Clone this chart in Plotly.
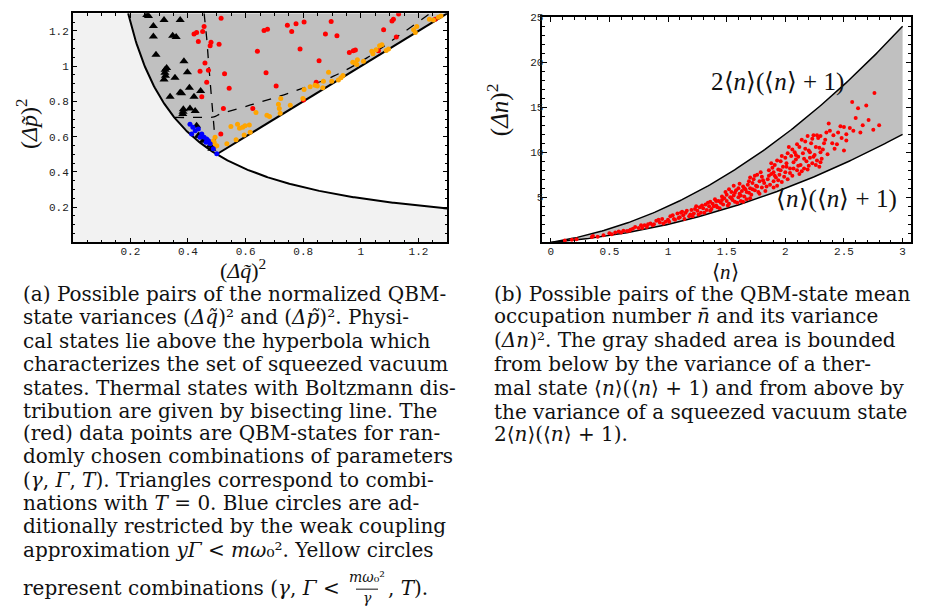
import numpy as np
import plotly.graph_objects as go

# The page body has an 8px margin, so the figure is drawn 8px in from the window edge.
OFF = 8
W, H = 929 - OFF, 608 - OFF

# ---------------- panel (a) data ----------------
tri_q = [0.257, 0.263, 0.280, 0.317, 0.373, 0.280, 0.347, 0.359, 0.289, 0.386, 0.326, 0.320, 0.317, 0.322, 0.321,
         0.398, 0.355, 0.405, 0.338, 0.373, 0.378, 0.421, 0.444, 0.384, 0.382, 0.383, 0.407, 0.425, 0.430, 0.442,
         0.453, 0.477, 0.483, 0.436]
tri_p = [1.290, 1.285, 1.228, 1.262, 1.262, 1.168, 1.172, 1.165, 1.065, 1.028, 0.990, 0.962, 0.925, 0.945, 0.980,
         0.966, 0.934, 0.878, 0.827, 0.850, 0.846, 0.827, 0.859, 0.756, 0.728, 0.742, 0.760, 0.746, 0.662, 0.605,
         0.577, 0.549, 0.531, 0.605]

red_q = [0.515, 0.456, 0.451, 0.480, 0.477, 0.508, 0.664, 0.676, 0.745, 0.775, 0.803, 0.760, 0.877, 0.641, 0.789,
         0.855, 0.459, 0.471, 0.442, 0.527, 0.671, 0.465, 0.543, 0.706, 0.845, 0.448, 0.523, 0.625, 0.801, 0.514,
         0.430, 0.421, 0.436, 0.897, 0.917, 1.131, 1.108, 1.113, 1.079, 1.123, 0.960, 0.974, 0.981, 1.061, 1.258]
red_p = [1.272, 1.225, 1.197, 1.135, 1.116, 1.125, 1.202, 1.210, 1.232, 1.240, 1.251, 1.197, 1.183, 1.084, 1.097,
         1.031, 1.018, 0.977, 0.971, 0.957, 0.962, 0.909, 0.874, 0.887, 0.909, 0.827, 0.760, 0.760, 0.808, 0.615,
         1.191, 1.183, 1.140, 1.253, 1.172, 1.296, 1.257, 1.266, 1.206, 1.165, 1.078, 1.088, 1.092, 1.088, 1.266]

blue_q = [0.407, 0.417, 0.425, 0.413, 0.436, 0.448, 0.456, 0.465, 0.442, 0.463, 0.477, 0.471, 0.488, 0.500]
blue_p = [0.671, 0.653, 0.634, 0.615, 0.643, 0.615, 0.597, 0.587, 0.597, 0.568, 0.559, 0.577, 0.531, 0.503]

orange_q = [0.494, 0.491, 0.500, 0.549, 0.572, 0.579, 0.590, 0.598, 0.613, 0.595, 0.616, 0.567, 0.535, 0.636,
            0.674, 0.683, 0.714, 0.717, 0.722, 0.720, 0.755, 0.799, 0.803, 0.824, 0.841, 0.849, 0.870, 0.888,
            0.899, 0.922, 0.931, 0.938, 0.868, 0.972, 0.980, 0.988, 0.986, 1.009, 1.038, 1.042, 1.053, 1.065,
            1.073, 1.088, 1.096, 1.183, 1.189, 1.194, 1.238, 1.252, 1.269, 1.278, 0.488, 0.495]
orange_p = [0.597, 0.568, 0.549, 0.658, 0.671, 0.647, 0.653, 0.662, 0.666, 0.609, 0.625, 0.583, 0.559, 0.737,
            0.722, 0.715, 0.784, 0.760, 0.816, 0.733, 0.778, 0.816, 0.868, 0.883, 0.891, 0.887, 0.915, 0.966,
            0.915, 0.921, 0.934, 0.947, 0.878, 1.022, 1.018, 1.037, 1.009, 1.028, 1.084, 1.071, 1.093, 1.116,
            1.121, 1.089, 1.097, 1.206, 1.191, 1.225, 1.266, 1.262, 1.277, 1.285, 0.575, 0.545]

dashA_q = [0.456, 0.465, 0.474, 0.482, 0.488, 0.493, 0.497]
dashA_p = [1.300, 1.160, 0.970, 0.800, 0.710, 0.620, 0.525]
dashB_q = [0.355, 0.430, 0.490, 0.511, 0.627, 0.755, 0.905, 1.021, 1.136, 1.241]
dashB_p = [0.709, 0.709, 0.712, 0.728, 0.784, 0.850, 0.943, 1.047, 1.178, 1.300]

a_ticks = [0.2, 0.4, 0.6, 0.8, 1.0, 1.2]
a_ticktext = ["0.2", "0.4", "0.6", "0.8", "1", "1.2"]

# ---------------- panel (b) data ----------------
n_pts = [0.12, 0.18, 0.22, 0.35, 0.36, 0.50, 0.52, 0.55, 0.58, 0.62, 0.67, 0.70, 0.72, 0.75, 0.77, 0.80, 0.82,
         0.85, 0.88, 0.90, 0.93, 0.95, 0.98, 1.00, 1.02, 1.05, 1.08, 1.10, 1.12, 1.13, 1.15, 1.18, 1.20, 1.22,
         1.24, 1.25, 1.27, 1.28, 1.30, 1.32, 1.33, 1.35, 1.36, 1.37, 1.38, 1.40, 1.41, 1.42, 1.43, 1.45, 1.46,
         1.47, 1.48, 1.50, 1.50, 1.52, 1.53, 1.54, 1.55, 1.56, 1.57, 1.58, 1.60, 1.60, 1.61, 1.62, 1.63, 1.64,
         1.65, 1.66, 1.67, 1.68, 1.69, 1.70, 1.70, 1.71, 1.72, 1.73, 1.74, 1.75, 1.76, 1.77, 1.78, 1.80, 1.80,
         1.82, 1.83, 1.85, 1.86, 1.87, 1.88, 1.89, 1.90, 1.90, 1.91, 1.92, 1.93, 1.94, 1.95, 1.96, 1.97, 1.98,
         2.00, 2.00, 2.01, 2.02, 2.03, 2.04, 2.05, 2.06, 2.07, 2.08, 2.09, 2.10, 2.10, 2.11, 2.12, 2.13, 2.14,
         2.15, 2.16, 2.17, 2.18, 2.19, 2.20, 2.20, 2.21, 2.22, 2.23, 2.24, 2.25, 2.26, 2.27, 2.28, 2.29, 2.30,
         2.30, 2.31, 2.33, 2.35, 2.37, 2.40, 2.42, 2.45, 2.48, 2.50, 2.50, 2.52, 2.55, 2.57, 2.60, 2.62, 2.66,
         2.69, 2.75, 2.76, 2.80,
         0.40, 0.45, 0.60, 0.65, 0.68, 0.78, 0.83, 0.87, 0.92, 0.96, 1.01, 1.04, 1.06, 1.09, 1.11, 1.14, 1.16,
         1.19, 1.21, 1.23, 1.26, 1.29, 1.31, 1.34, 1.36, 1.39, 1.41, 1.44, 1.46, 1.49, 1.51, 1.52, 1.54, 1.56,
         1.57, 1.59, 1.61, 1.62, 1.64, 1.65, 1.67, 1.69, 1.70, 1.72, 1.74, 1.76, 1.78, 1.79, 1.81, 1.84, 1.86,
         1.88, 1.90, 1.91, 1.93, 1.94, 1.96, 1.97, 1.99, 2.01, 2.02, 2.04, 2.06, 2.07, 2.09, 2.11, 2.12, 2.14,
         2.16, 2.17, 2.19, 2.21, 2.23, 2.24, 2.26, 2.27, 2.29, 2.30, 2.32, 2.34, 2.36, 2.38, 2.41, 2.44, 2.47,
         2.52, 2.58, 2.64, 2.71]
var_pts = [0.20, 0.30, 0.35, 0.60, 0.70, 1.00, 0.90, 1.10, 1.20, 1.30, 1.30, 1.50, 1.70, 1.60, 1.90, 1.90, 1.70,
           2.10, 2.00, 2.40, 2.20, 2.60, 2.30, 2.50, 2.90, 2.60, 3.20, 2.80, 3.40, 3.00, 3.30, 2.90, 3.60, 3.20,
           4.00, 3.50, 3.90, 3.30, 3.80, 4.20, 3.60, 4.00, 4.50, 3.70, 4.30, 4.80, 4.10, 3.90, 4.60, 4.40, 5.10,
           4.20, 4.90, 4.60, 5.30, 4.30, 5.00, 5.60, 4.70, 5.20, 4.50, 5.80, 5.00, 6.00, 5.40, 4.60, 5.70, 6.20,
           5.10, 5.90, 4.80, 6.40, 5.50, 6.00, 7.20, 5.30, 6.60, 7.00, 5.80, 6.30, 7.50, 5.60, 6.80, 6.10, 7.30,
           6.60, 5.70, 7.00, 8.00, 6.40, 7.60, 8.30, 6.80, 7.80, 8.60, 7.20, 6.30, 8.10, 7.50, 9.00, 6.70, 8.40,
           7.80, 9.40, 8.80, 7.00, 10.6, 8.20, 9.60, 7.40, 8.90, 10.0, 9.20, 8.00, 10.9, 9.50, 7.60, 8.60, 11.4,
           9.90, 8.20, 10.4, 9.00, 11.8, 8.50, 10.2, 9.40, 11.0, 8.80, 11.9, 9.70, 10.6, 9.10, 11.6, 8.40, 10.0,
           11.8, 9.30, 11.0, 12.2, 13.2, 11.0, 10.4, 12.2, 11.6, 10.2, 12.8, 12.0, 12.7, 15.6, 13.8, 14.9, 13.0,
           15.2, 12.5, 16.6, 13.0,
           0.62, 0.80, 1.10, 1.25, 1.40, 1.60, 2.00, 1.90, 2.50, 2.10, 2.30, 3.00, 2.50, 2.70, 3.30, 2.60, 3.50,
           3.10, 2.90, 3.70, 3.10, 4.10, 3.30, 4.40, 3.50, 4.00, 4.60, 3.80, 4.70, 5.60, 4.10, 5.90, 4.90, 6.30,
           5.50, 4.40, 6.50, 5.20, 4.50, 6.00, 5.60, 6.80, 4.90, 5.90, 7.40, 6.20, 5.40, 7.80, 6.90, 6.20, 7.40,
           8.80, 6.10, 7.40, 9.10, 6.90, 8.00, 9.60, 7.30, 8.40, 9.90, 7.70, 10.3, 8.20, 9.70, 8.50, 10.6, 7.90,
           9.30, 11.2, 8.10, 10.0, 11.5, 9.50, 8.60, 11.9, 10.5, 8.90, 10.3, 11.4, 9.80, 12.4, 11.9, 10.9, 12.9,
           11.3, 12.4, 12.2, 13.6]

b_xticks = [0, 0.5, 1, 1.5, 2, 2.5, 3]
b_xticktext = ["0", "0.5", "1", "1.5", "2", "2.5", "3"]
b_yticks = [5, 10, 15, 20, 25]

# ---------------- analytic boundaries ----------------
q_line = np.linspace(0.25 / 1.3, 1.3, 300)
p_hyp = 0.25 / q_line
q_up = np.linspace(0.25 / 1.3, 0.5, 150)
p_up = 0.25 / q_up
n_line = np.linspace(0, 3, 200)
therm = n_line * (n_line + 1)
squeez = 2 * n_line * (n_line + 1)

fig = go.Figure()

# panel (a)
fig.add_trace(go.Scatter(x=[0, 0.25 / 1.3] + list(q_line) + [1.3, 0], y=[1.3, 1.3] + list(p_hyp) + [0, 0],
                         fill="toself", fillcolor="#f2f2f2", line=dict(width=0), mode="lines",
                         xaxis="x", yaxis="y", hoverinfo="skip"))
fig.add_trace(go.Scatter(x=list(q_up) + [1.3, 0.25 / 1.3], y=list(p_up) + [1.3, 1.3],
                         fill="toself", fillcolor="#c0c0c0", line=dict(width=0), mode="lines",
                         xaxis="x", yaxis="y", hoverinfo="skip"))
fig.add_trace(go.Scatter(x=dashA_q, y=dashA_p, mode="lines", line=dict(color="black", width=1.3, dash="dash"),
                         xaxis="x", yaxis="y"))
fig.add_trace(go.Scatter(x=dashB_q, y=dashB_p, mode="lines",
                         line=dict(color="black", width=1.3, dash="dash", shape="spline"),
                         xaxis="x", yaxis="y"))
fig.add_trace(go.Scatter(x=q_line, y=p_hyp, mode="lines", line=dict(color="black", width=2),
                         xaxis="x", yaxis="y"))
fig.add_trace(go.Scatter(x=[0.5, 1.3], y=[0.5, 1.3], mode="lines", line=dict(color="black", width=2),
                         xaxis="x", yaxis="y"))
fig.add_trace(go.Scatter(x=red_q, y=red_p, mode="markers", marker=dict(color="#ff0000", size=5),
                         xaxis="x", yaxis="y"))
fig.add_trace(go.Scatter(x=orange_q, y=orange_p, mode="markers", marker=dict(color="#ffa500", size=5),
                         xaxis="x", yaxis="y"))
fig.add_trace(go.Scatter(x=tri_q, y=tri_p, mode="markers", marker=dict(color="black", size=8, symbol="triangle-up"),
                         xaxis="x", yaxis="y"))
fig.add_trace(go.Scatter(x=blue_q, y=blue_p, mode="markers", marker=dict(color="#0000ff", size=5),
                         xaxis="x", yaxis="y"))

# panel (b)
fig.add_trace(go.Scatter(x=n_line, y=therm, mode="lines", line=dict(color="black", width=1.5),
                         xaxis="x2", yaxis="y2"))
fig.add_trace(go.Scatter(x=n_line, y=squeez, mode="lines", line=dict(color="black", width=1.5),
                         fill="tonexty", fillcolor="#c0c0c0", xaxis="x2", yaxis="y2"))
fig.add_trace(go.Scatter(x=n_pts, y=var_pts, mode="markers", marker=dict(color="#ff0000", size=4),
                         xaxis="x2", yaxis="y2"))


def dx(a, b):
    return [(a - OFF) / W, (b - OFF) / W]


def dy(top, bottom):
    return [1 - (bottom - OFF) / H, 1 - (top - OFF) / H]


tickfont = dict(family="Liberation Mono", size=11, color="#222")
common = dict(showline=True, linecolor="black", linewidth=1.5, mirror="ticks", ticks="inside",
              ticklen=5, tickwidth=1, tickcolor="black", showgrid=False, zeroline=False,
              tickfont=tickfont, ticklabeloverflow="allow")

fig.update_layout(
    width=W, height=H, margin=dict(l=0, r=0, t=0, b=0),
    paper_bgcolor="white", plot_bgcolor="white", showlegend=False,
    xaxis=dict(domain=dx(72.7, 447.3), range=[0, 1.3], anchor="y",
               tickvals=a_ticks, ticktext=a_ticktext, ticklabelstandoff=-2,
               minor=dict(ticks="inside", ticklen=3, dtick=0.05, tick0=0, tickcolor="black"), **common),
    yaxis=dict(domain=dy(8.3, 239.3), range=[0, 1.3], anchor="x",
               tickvals=a_ticks, ticktext=a_ticktext, ticklabelstandoff=0,
               minor=dict(ticks="inside", ticklen=3, dtick=0.05, tick0=0, tickcolor="black"), **common),
    xaxis2=dict(domain=dx(542.3, 910.7), range=[-0.072, 3.069], anchor="y2",
                tickvals=b_xticks, ticktext=b_xticktext, ticklabelstandoff=-2,
                minor=dict(ticks="inside", ticklen=3, dtick=0.1, tick0=0, tickcolor="black"), **common),
    yaxis2=dict(domain=dy(12.3, 239.3), range=[0, 25], anchor="x2",
                tickvals=b_yticks, ticklabelstandoff=-5,
                minor=dict(ticks="inside", ticklen=3, dtick=1, tick0=0, tickcolor="black"), **common),
)


def P(x, y):
    return (x - OFF) / W, 1 - (y - OFF) / H


ann = []


def add(text, x, y, size=20, xanchor="left", yanchor="middle", angle=0, family="DejaVu Serif"):
    ax, ay = P(x, y)
    ann.append(dict(text=text, x=ax, y=ay, xref="paper", yref="paper", showarrow=False,
                    xanchor=xanchor, yanchor=yanchor, textangle=angle, borderpad=0,
                    font=dict(family=family, size=size, color="#111")))


LS = "Liberation Serif"
# axis titles and curve labels
add("(<i>Δp̃</i>)<sup>2</sup>", 27, 120, size=24, xanchor="center", angle=-90, family=LS)
add("(<i>Δq̃</i>)<sup>2</sup>", 243, 266, size=22, xanchor="center", family=LS)
add("(<i>Δn</i>)<sup>2</sup>", 498, 106, size=25, xanchor="center", angle=-90, family=LS)
add("⟨<i>n</i>⟩", 725, 269, size=21, xanchor="center", family=LS)
add("2⟨<i>n</i>⟩(⟨<i>n</i>⟩ + 1)", 777, 78, size=25, xanchor="center", family=LS)
add("⟨<i>n</i>⟩(⟨<i>n</i>⟩ + 1)", 836, 196, size=25, xanchor="center", family=LS)

cap_a = [
    "(a) Possible pairs of the normalized QBM-",
    "state variances (<i>Δq̃</i>)² and (<i>Δp̃</i>)². Physi-",
    "cal states lie above the hyperbola which",
    "characterizes the set of squeezed vacuum",
    "states. Thermal states with Boltzmann dis-",
    "tribution are given by bisecting line. The",
    "(red) data points are QBM-states for ran-",
    "domly chosen combinations of parameters",
    "(<i>γ</i>, <i>Γ</i>, <i>T</i>). Triangles correspond to combi-",
    "nations with <i>T</i> = 0. Blue circles are ad-",
    "ditionally restricted by the weak coupling",
    "approximation <i>yΓ</i> < <i>mω</i>₀². Yellow circles",
]
cap_a_y = [291, 315, 339, 362, 386, 409, 432, 455, 479, 502, 525, 550]
for t, y in zip(cap_a, cap_a_y):
    add(t, 22, y)
add("represent combinations (<i>γ</i>, <i>Γ</i> <", 22, 588)
add("<i>mω</i>₀²", 367, 577, size=14, xanchor="center")
add("<i>γ</i>", 367, 598, size=14, xanchor="center")
add(", <i>T</i>).", 387, 588)

cap_b = [
    "(b) Possible pairs of the QBM-state mean",
    "occupation number <i>n̄</i> and its variance",
    "(<i>Δn</i>)². The gray shaded area is bounded",
    "from below by the variance of a ther-",
    "mal state ⟨<i>n</i>⟩(⟨<i>n</i>⟩ + 1) and from above by",
    "the variance of a squeezed vacuum state",
    "2⟨<i>n</i>⟩(⟨<i>n</i>⟩ + 1).",
]
cap_b_y = [291, 314, 338, 362, 386, 410, 433]
for t, y in zip(cap_b, cap_b_y):
    add(t, 493, y)

fig.update_layout(annotations=ann,
                  shapes=[dict(type="line", xref="paper", yref="paper",
                               x0=(356 - OFF) / W, x1=(378 - OFF) / W,
                               y0=1 - (589 - OFF) / H, y1=1 - (589 - OFF) / H,
                               line=dict(color="#111", width=1))])

fig.write_html("out.html")
